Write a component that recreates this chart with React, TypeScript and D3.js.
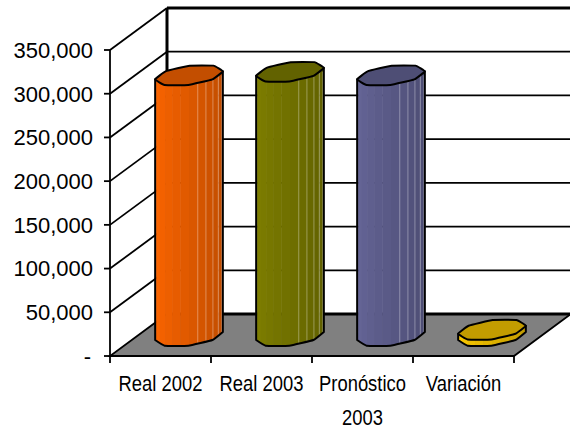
import React from "react";
import * as d3 from "d3";

const categories = ["Real 2002", "Real 2003", "Pronóstico", "Variación"];
const values = [297000, 301000, 297000, 6000];
const bodyColors = ["#ff6600", "#808000", "#666699", "#ffcc00"];
const yTicks = [0, 50000, 100000, 150000, 200000, 250000, 300000, 350000];

const width = 570;
const height = 432;
const depthX = 57;
const depthY = 42;

const x = d3.scaleBand<string>().domain(categories).range([110, 514]);
const y = d3.scaleLinear().domain([0, 350000]).range([356, 50]);

const rx = 31;
const skew = 13.6;
const ry = 10.5;

// the cylinders are sheared octagons, like the old Excel 3D charts
const toRad = (deg: number) => (deg * Math.PI) / 180;
const octagon = (cx: number, cy: number, angles: number[]) =>
  angles.map((a): [number, number] => [
    cx + rx * Math.cos(toRad(a)) + skew * Math.sin(toRad(a)),
    cy - ry * Math.sin(toRad(a)),
  ]);

const capAngles = d3.range(0, 8).map((i) => 22.5 + i * 45);
const lowerAngles = d3.range(0, 5).map((i) => -157.5 + i * 45);
// facet edges seen from the front, left to right
const facetAngles = d3.range(0, 13).map((i) => -180 + i * 15);

const roundClosed = d3.line().curve(d3.curveCardinalClosed.tension(0.72));
const roundOpen = d3.line().curve(d3.curveCardinal.tension(0.72));
const closed = d3.line().curve(d3.curveLinearClosed);
const fmt = (v: number) => (v === 0 ? "-" : d3.format(",")(v));

function Cylinder({ name, value, color, index }: { name: string; value: number; color: string; index: number }) {
  const cx = (x(name) as number) + x.bandwidth() / 2 + depthX / 2;
  const base = y(0) - depthY / 2 + 1;
  const top = y(value) - depthY / 2;
  const lower = octagon(cx, base, lowerAngles);
  const upper = octagon(cx, top, lowerAngles).reverse();
  const body = `${roundOpen(lower)}L${upper[0]}L${upper[upper.length - 1]}Z`;
  const cap = roundClosed(octagon(cx, top, capAngles)) || "";
  const radius = Math.hypot(rx, skew);
  const shade = d3.scaleLinear<string>().domain([0, 11]).range([color, d3.rgb(color).darker(0.85).formatHex()]);
  const capColor = d3.rgb(color).darker(0.75).formatHex();
  const edges = facetAngles.map((a) => cx + radius * Math.cos(toRad(a)));
  const clipId = `body-${index}`;
  return (
    <g>
      <clipPath id={clipId}>
        <path d={body} />
      </clipPath>
      <g clipPath={`url(#${clipId})`}>
        {edges.slice(0, -1).map((e, i) => (
          <rect key={i} x={e} y={top - ry} width={edges[i + 1] - e + 0.5} height={base - top + 2 * ry + 2} fill={shade(i)} />
        ))}
        {value > 50000 &&
          edges.slice(7, -1).map((e, i) => (
            <line key={i} x1={e} x2={e} y1={top} y2={base + ry} stroke="#fff" strokeOpacity={0.35} strokeWidth={1} />
          ))}
      </g>
      <path d={body} fill="none" stroke="#000" strokeWidth={2} strokeLinejoin="round" />
      <path d={cap} fill={capColor} stroke="#000" strokeWidth={2} strokeLinejoin="round" />
    </g>
  );
}

// x labels are narrower than plain Arial, squeeze them a bit
function NarrowText({ cx, yPos, children }: { cx: number; yPos: number; children: React.ReactNode }) {
  return (
    <text transform={`translate(${cx},${yPos}) scale(0.855,1)`} textAnchor="middle" fontSize={21.5} fill="#000">
      {children}
    </text>
  );
}

export default function App() {
  const [x0, x1] = x.range();
  const y0 = y(0);
  const yTop = y(350000);
  const floor = closed([
    [x0, y0],
    [x1, y0],
    [x1 + depthX, y0 - depthY],
    [x0 + depthX, y0 - depthY],
  ]) || "";
  const xEdges = [...categories.map((c) => x(c) as number), x1];

  return (
    <svg
      width={width}
      height={height}
      style={{ position: "absolute", left: 0, top: 0, background: "#fff" }}
      fontFamily="'Liberation Sans', Arial, sans-serif"
    >
      {/* walls */}
      {yTicks.slice(1, -1).map((t) => (
        <line key={t} x1={x0 + depthX} x2={x1 + depthX} y1={y(t) - depthY} y2={y(t) - depthY} stroke="#000" strokeWidth={1.8} />
      ))}
      <line x1={x0 + depthX} x2={x1 + depthX} y1={yTop - depthY} y2={yTop - depthY} stroke="#000" strokeWidth={3} />
      <line x1={x0 + depthX} x2={x0 + depthX} y1={yTop - depthY} y2={y0 - depthY} stroke="#000" strokeWidth={3} />
      {yTicks.slice(1).map((t) => (
        <line key={t} x1={x0} x2={x0 + depthX} y1={y(t)} y2={y(t) - depthY} stroke="#000" strokeWidth={1.8} />
      ))}

      <path d={floor} fill="#808080" stroke="#000" strokeWidth={1.8} />
      <line x1={x0 + depthX} x2={x1 + depthX} y1={y0 - depthY} y2={y0 - depthY} stroke="#000" strokeWidth={3} />

      {/* axes */}
      <line x1={x0} x2={x0} y1={yTop} y2={y0} stroke="#000" strokeWidth={1.8} />
      <line x1={x0} x2={x1} y1={y0} y2={y0} stroke="#000" strokeWidth={1.8} />
      {yTicks.map((t) => (
        <g key={t}>
          <line x1={x0 - 6} x2={x0} y1={y(t)} y2={y(t)} stroke="#000" strokeWidth={1.8} />
          <text x={t === 0 ? 91 : 93} y={y(t)} dy="0.36em" textAnchor="end" fontSize={22} fill="#000">
            {fmt(t)}
          </text>
        </g>
      ))}
      {xEdges.map((e) => (
        <line key={e} x1={e} x2={e} y1={y0} y2={y0 + 7} stroke="#000" strokeWidth={1.8} />
      ))}

      {categories.map((c, i) => (
        <Cylinder key={c} name={c} value={values[i]} color={bodyColors[i]} index={i} />
      ))}

      {categories.map((c) => (
        <NarrowText key={c} cx={(x(c) as number) + x.bandwidth() / 2} yPos={391}>
          {c}
        </NarrowText>
      ))}
      <NarrowText cx={(x("Pronóstico") as number) + x.bandwidth() / 2} yPos={425}>
        2003
      </NarrowText>
    </svg>
  );
}
